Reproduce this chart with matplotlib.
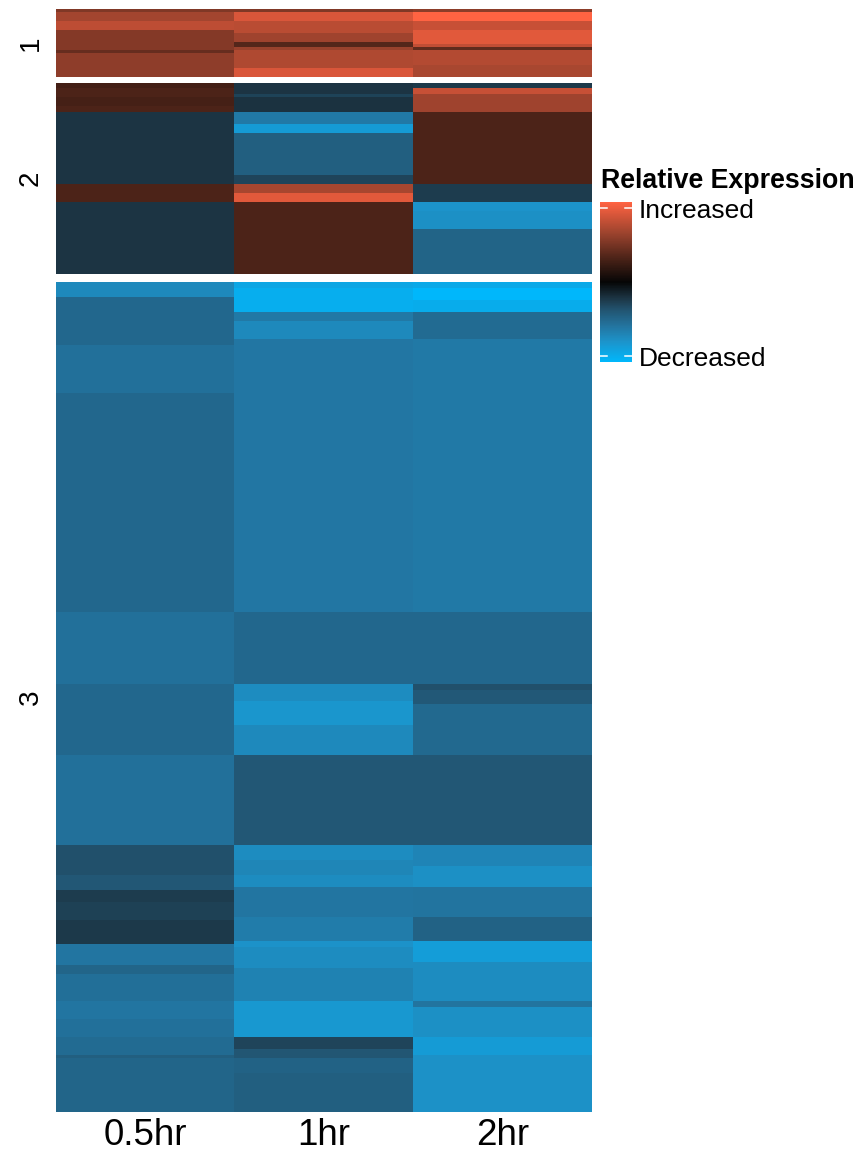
"""Heatmap of relative expression, three clusters by time point, with a gradient legend."""

import matplotlib

matplotlib.use("Agg")
import matplotlib.pyplot as plt
import numpy as np
from matplotlib.colors import LinearSegmentedColormap, Normalize
from matplotlib.cm import ScalarMappable

plt.rcParams["font.family"] = ["Liberation Sans", "DejaVu Sans"]

TIMEPOINTS = ["0.5hr", "1hr", "2hr"]
CLUSTERS = ["1", "2", "3"]

# each column is a list of (number of genes, relative expression) runs, top to bottom
c1_05 = [(1, 0.50), (3, 0.64), (3, 0.74), (7, 0.52), (1, 0.40), (8, 0.56)]
c1_1 = [(1, 0.50), (3, 0.85), (1, 0.72), (3, 0.72), (3, 0.62), (2, 0.33), (1, 0.60), (6, 0.68), (3, 0.85)]
c1_2 = [(1, 0.55), (3, 1.00), (3, 0.78), (5, 0.88), (1, 0.75), (1, 0.38), (5, 0.70), (4, 0.66)]

c2_05 = [(2, 0.26), (3, 0.30), (3, 0.27), (2, 0.30), (24, -0.20), (6, 0.30), (24, -0.20)]
c2_1 = [(4, -0.20), (1, -0.27), (5, -0.19), (4, -0.58), (3, -0.80), (14, -0.42), (3, -0.28),
        (3, 0.65), (3, 0.88), (24, 0.30)]
c2_2 = [(2, -0.22), (2, 0.78), (6, 0.62), (24, 0.30), (6, -0.24), (3, -0.75), (6, -0.72), (15, -0.45)]

c3_05 = [(5, -0.68), (16, -0.47), (16, -0.53), (73, -0.47), (24, -0.53), (24, -0.47), (30, -0.53),
         (10, -0.33), (5, -0.37), (4, -0.24), (6, -0.26), (8, -0.22), (7, -0.56), (3, -0.46), (9, -0.52),
         (6, -0.56), (6, -0.53), (6, -0.50), (1, -0.42), (18, -0.46)]
c3_1 = [(2, -0.88), (8, -0.93), (3, -0.58), (6, -0.68), (91, -0.57), (24, -0.47), (6, -0.70), (8, -0.76),
        (10, -0.68), (30, -0.37), (5, -0.70), (5, -0.66), (4, -0.70), (10, -0.56), (8, -0.60), (2, -0.74),
        (7, -0.70), (11, -0.64), (12, -0.78), (4, -0.28), (3, -0.36), (5, -0.44), (13, -0.42)]
c3_2 = [(2, -0.90), (4, -1.00), (4, -0.92), (9, -0.50), (91, -0.58), (24, -0.47), (2, -0.33), (5, -0.38),
        (17, -0.48), (30, -0.37), (7, -0.65), (7, -0.72), (10, -0.55), (8, -0.44), (7, -0.82), (13, -0.70),
        (2, -0.55), (10, -0.72), (6, -0.80), (19, -0.73)]

CMAP = LinearSegmentedColormap.from_list(
    "expr",
    [
        (0.0, "#00B7FB"),
        (0.125, "#1C94CB"),
        (0.225, "#23749F"),
        (0.325, "#225470"),
        (0.40, "#1C3443"),
        (0.50, "#060606"),
        (0.65, "#4C2318"),
        (0.80, "#99422D"),
        (1.0, "#FF6342"),
    ],
)
NORM = Normalize(-1, 1)


def expand(runs):
    counts, values = zip(*runs)
    return np.repeat(values, counts)


def panel_axes(fig, top, bottom):
    # pixel box of the reference turned into figure fractions
    W, H = 861, 1151
    return fig.add_axes([56 / W, 1 - bottom / H, (592 - 56) / W, (bottom - top) / H])


def main():
    fig = plt.figure(figsize=(8.61, 11.51), dpi=100)
    panels = [
        (CLUSTERS[0], (c1_05, c1_1, c1_2), 9, 77),
        (CLUSTERS[1], (c2_05, c2_1, c2_2), 83, 274.5),
        (CLUSTERS[2], (c3_05, c3_1, c3_2), 282, 1112),
    ]
    for label, cols, top, bottom in panels:
        ax = panel_axes(fig, top, bottom)
        mat = np.column_stack([expand(c) for c in cols])
        ax.imshow(mat, cmap=CMAP, norm=NORM, aspect="auto", interpolation="nearest")
        ax.set_yticks([(mat.shape[0] - 1) / 2])
        ax.set_yticklabels([label], rotation=90, va="center", fontsize=20)
        ax.tick_params(length=0, pad=9)
        ax.set_xticks([])
        for s in ax.spines.values():
            s.set_visible(False)

    ax.set_xticks(range(len(TIMEPOINTS)))
    ax.set_xticklabels(TIMEPOINTS, fontsize=26.5)
    ax.tick_params(axis="x", length=0, pad=4)

    # ---- legend -----------------------------------------------------------
    W, H = 861, 1151
    cax = fig.add_axes([600 / W, 1 - 362 / H, 32 / W, 160 / H])
    cb = fig.colorbar(ScalarMappable(norm=NORM, cmap=CMAP), cax=cax)
    cb.outline.set_visible(False)
    cb.set_ticks([-0.925, 0.925])
    cb.set_ticklabels(["Decreased", "Increased"], fontsize=19)
    cax.tick_params(length=0, pad=5)
    for y in (-0.925, 0.925):
        cax.plot([0, 0.22], [y, y], color="white", lw=1.1, transform=cax.get_yaxis_transform())
        cax.plot([0.78, 1], [y, y], color="white", lw=1.1, transform=cax.get_yaxis_transform())
    fig.text(601 / W, 1 - 181 / H, "Relative Expression", fontsize=19.3, fontweight="bold", va="center")

    fig.savefig("out.png", dpi=100)


if __name__ == "__main__":
    main()
